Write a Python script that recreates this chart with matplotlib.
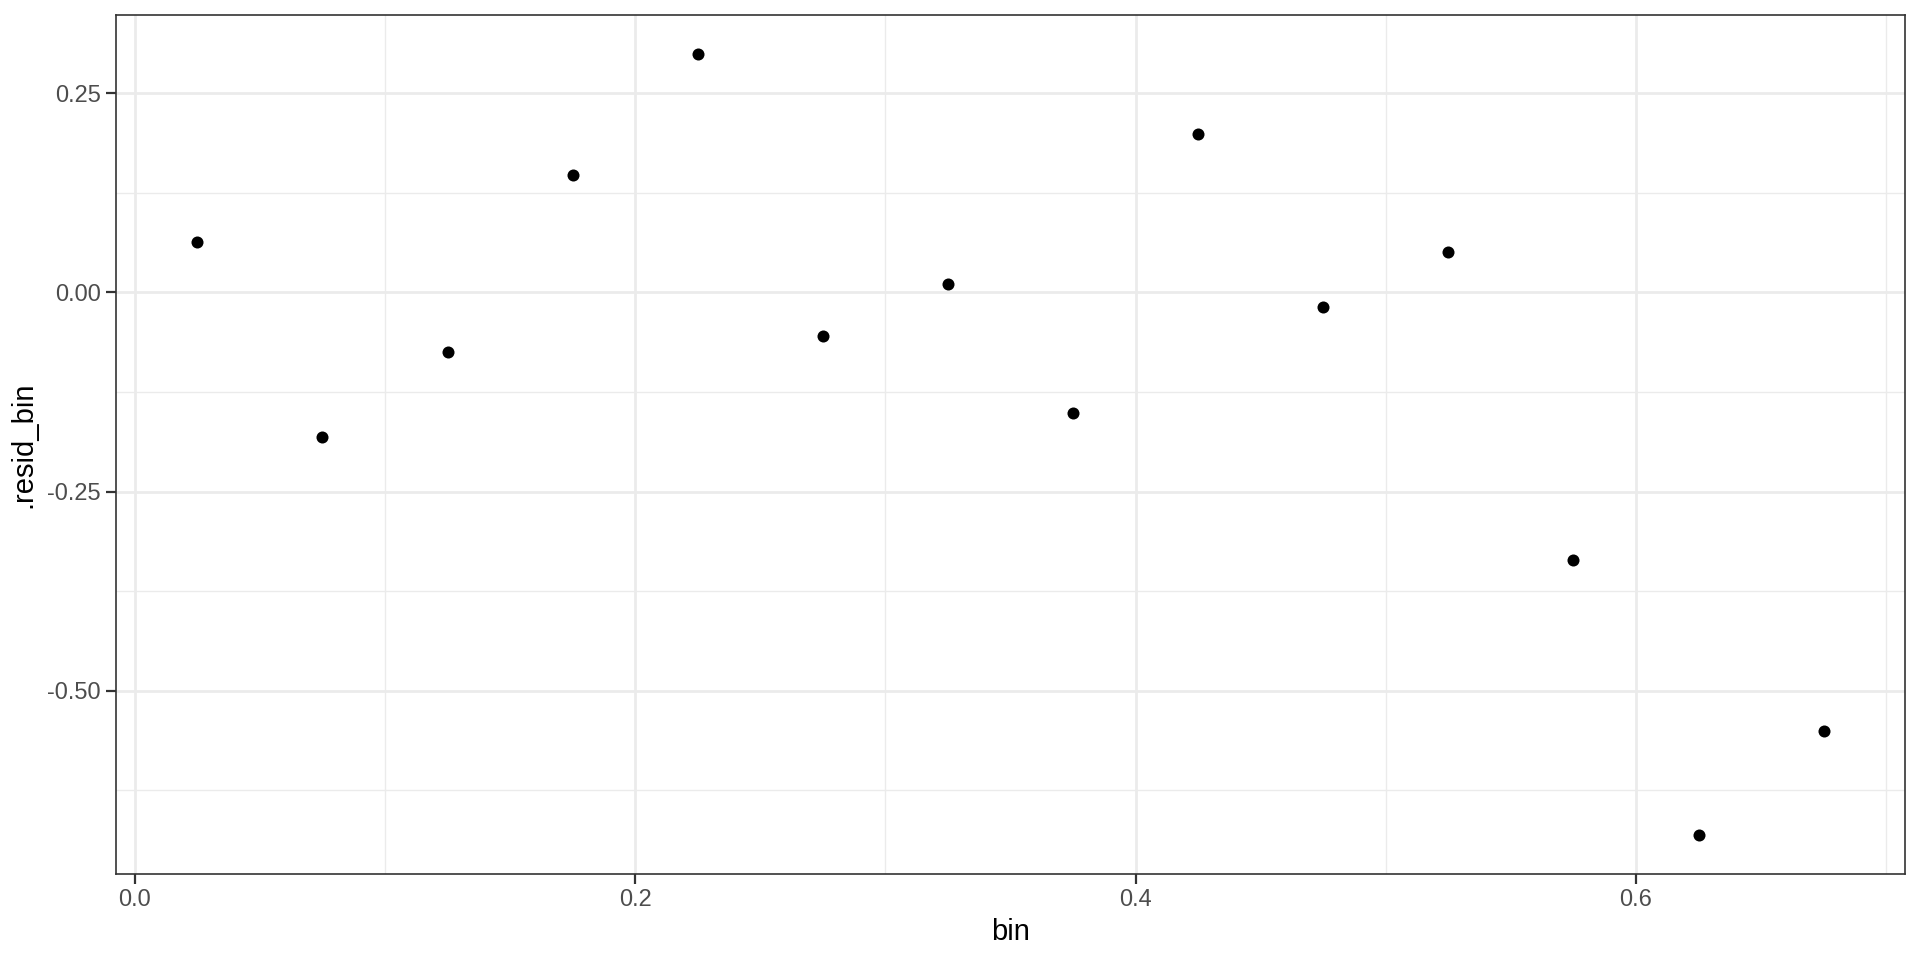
import numpy as np
import matplotlib.pyplot as plt

plt.rcParams['font.family'] = ['Liberation Sans', 'DejaVu Sans']

# binned residuals
bin_mid = [0.025, 0.075, 0.125, 0.175, 0.225, 0.275, 0.325,
           0.375, 0.425, 0.475, 0.525, 0.575, 0.625, 0.675]
resid_bin = [0.063, -0.181, -0.075, 0.147, 0.299, -0.055, 0.011,
             -0.152, 0.199, -0.018, 0.051, -0.336, -0.681, -0.551]

x_ticks = [0.0, 0.2, 0.4, 0.6]
y_ticks = [-0.50, -0.25, 0.00, 0.25]

fig = plt.figure(figsize=(19.2, 9.6), dpi=100)
ax = fig.add_axes([116 / 1920, 1 - 874 / 960, (1905 - 116) / 1920, (874 - 15) / 960])

ax.scatter(bin_mid, resid_bin, s=75, color='black', zorder=3, linewidths=0)

# ggplot-style expanded limits
xr = max(bin_mid) - min(bin_mid)
yr = max(resid_bin) - min(resid_bin)
ax.set_xlim(min(bin_mid) - 0.05 * xr, max(bin_mid) + 0.05 * xr)
ax.set_ylim(min(resid_bin) - 0.05 * yr, max(resid_bin) + 0.05 * yr)

ax.set_xticks(x_ticks)
ax.set_xticklabels([f"{v:.1f}" for v in x_ticks])
ax.set_yticks(y_ticks)
ax.set_yticklabels([f"{v:.2f}" for v in y_ticks])
ax.set_xticks([0.1, 0.3, 0.5, 0.7], minor=True)
ax.set_yticks([-0.625, -0.375, -0.125, 0.125], minor=True)

ax.grid(True, which='major', color='#EBEBEB', linewidth=2.0, zorder=0)
ax.grid(True, which='minor', color='#EBEBEB', linewidth=1.0, zorder=0)
ax.set_axisbelow(True)

for sp in ax.spines.values():
    sp.set_color('#333333')
    sp.set_linewidth(1.2)

ax.tick_params(which='major', length=7, width=1.6, color='#333333',
               labelsize=17, labelcolor='#4D4D4D', pad=4)
ax.tick_params(which='minor', length=0)

ax.set_xlabel('bin', fontsize=21, color='black', labelpad=5)
ax.set_ylabel('.resid_bin', fontsize=21, color='black', labelpad=7)

fig.savefig('out.png', dpi=100, facecolor='white')
